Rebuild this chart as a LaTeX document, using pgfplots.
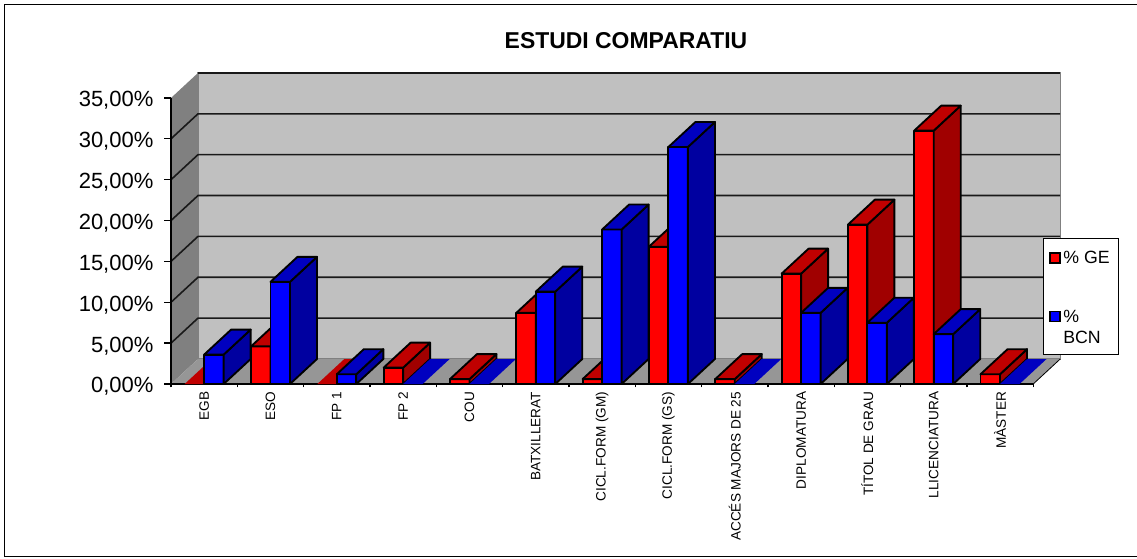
\documentclass[border=0pt]{standalone}
\usepackage{pgfplots}
\pgfplotsset{compat=1.18}
\usepackage{fontspec}
\setmainfont{Liberation Sans}
\definecolor{rfront}{HTML}{FF0000}
\definecolor{rtop}{HTML}{C00000}
\definecolor{rside}{HTML}{A00000}
\definecolor{bfront}{HTML}{0000FF}
\definecolor{btop}{HTML}{0000C0}
\definecolor{bside}{HTML}{0000A0}
\definecolor{wallb}{HTML}{C0C0C0}
\definecolor{walll}{HTML}{808080}
\definecolor{floorc}{HTML}{969696}
\def\dx{0.4072}
\def\dy{3.06}
\def\bw{0.294}
% one box: left x, value, colour prefix
\newcommand{\onebox}[3]{%
  \pgfmathsetmacro\xa{#1}\pgfmathsetmacro\xb{#1+\bw}%
  \pgfmathsetmacro\xc{\xa+\dx}\pgfmathsetmacro\xd{\xb+\dx}%
  \pgfmathsetmacro\ya{#2}\pgfmathsetmacro\yb{#2+\dy}%
  \ifdim#2pt>0pt
    \addplot[forget plot,draw=black,line width=1.4pt,line join=round,fill=#3front] coordinates {(\xa,0)(\xb,0)(\xb,\ya)(\xa,\ya)} --cycle;
    \addplot[forget plot,draw=black,line width=1.4pt,line join=round,fill=#3side] coordinates {(\xb,0)(\xd,\dy)(\xd,\yb)(\xb,\ya)} --cycle;
    \addplot[forget plot,draw=black,line width=1.4pt,line join=round,fill=#3top] coordinates {(\xa,\ya)(\xb,\ya)(\xd,\yb)(\xc,\yb)} --cycle;
  \else
    \addplot[forget plot,draw=none,fill=#3top] coordinates {(\xa,0)(\xb,0)(\xd,\dy)(\xc,\dy)} --cycle;
  \fi}
\newcommand{\cat}[3]{%
  \pgfmathsetmacro\xr{#1+0.5-\bw}\pgfmathsetmacro\xl{#1+0.5}%
  \onebox{\xr}{#2}{r}\onebox{\xl}{#3}{b}}
\newcommand{\gridl}[1]{%
  \pgfmathsetmacro\yy{#1+\dy}%
  \addplot[forget plot,black!90,line width=1.2pt] coordinates {(0,#1)(\dx,\yy)(13.4072,\yy)};}
\begin{document}
\begin{tikzpicture}
\path[use as bounding box] (0pt,0pt) rectangle (852.75pt,-418.5pt);
\draw[black,line width=0.7pt] (852.75pt,-3pt) -- (3pt,-3pt) -- (3pt,-417pt) -- (852.75pt,-417pt);
\begin{axis}[
  at={(128.25pt,-288pt)},anchor=south west,
  scale only axis,width=666.9pt,height=233.3pt,
  xmin=0,xmax=13.4072,ymin=0,ymax=38.06,
  clip=false,
  axis lines=left,
  axis line style={draw=none,-},
  tick align=outside,tick pos=left,
  major tick length=5pt,
  tick style={black,line width=1pt},
  xtick style={/pgfplots/major tick length=2.5pt},
  xtick={0,1,...,13},
  x tick label as interval,
  xticklabels={EGB,ESO,FP 1,FP 2,COU,BATXILLERAT,CICL.FORM (GM),CICL.FORM (GS),ACCÉS MAJORS DE 25,DIPLOMATURA,TÍTOL DE GRAU,LLICENCIATURA,MÀSTER},
  xticklabel style={rotate=90,anchor=east,font=\fontsize{10.2}{11}\selectfont,inner sep=0pt,xshift=-0.7pt},
  ytick={0,5,...,35},
  yticklabels={{0,00\%},{5,00\%},{10,00\%},{15,00\%},{20,00\%},{25,00\%},{30,00\%},{35,00\%}},
  yticklabel style={font=\fontsize{16.5}{18}\selectfont,inner sep=1pt,xshift=-7pt,yshift=-2pt},
  title={\bfseries ESTUDI COMPARATIU},
  every axis title shift=0pt,
  title style={at={(axis cs:6.86,42.05)},anchor=center,font=\fontsize{17.2}{19}\selectfont},
  legend style={at={(axis cs:13.15,17.87)},anchor=north west,draw=black,line width=0.5pt,
    inner xsep=4pt,inner ysep=7.5pt,row sep=29.75pt,font=\fontsize{13.3}{15.5}\selectfont,
    /tikz/row 2/.style={nodes={text depth=14pt}},
    /tikz/every even column/.append style={column sep=2pt}},
  legend cell align=left,
]
\addlegendimage{legend image code/.code={\draw[black,line width=1.4pt,fill=rfront] (0pt,-3.5pt) rectangle (7.5pt,4pt);}}
\addlegendentry{\parbox[t]{35pt}{\% GE}}
\addlegendimage{legend image code/.code={\draw[black,line width=1.4pt,fill=bfront] (0pt,3.25pt) rectangle (7.5pt,10.75pt);}}
\addlegendentry{\parbox[t]{35pt}{\%\\BCN}}
% walls and floor
\addplot[forget plot,draw=walll,line width=0.8pt,fill=wallb] coordinates {(\dx,\dy)(13.4072,\dy)(13.4072,38.06)(\dx,38.06)} --cycle;
\addplot[forget plot,draw=none,fill=walll] coordinates {(0,0)(\dx,\dy)(\dx,38.06)(0,35)} --cycle;
\addplot[forget plot,draw=none,fill=floorc] coordinates {(0,0)(13,0)(13.4072,\dy)(\dx,\dy)} --cycle;
\addplot[forget plot,black,line width=0.6pt] coordinates {(13,0)(13.4072,\dy)};
\gridl{5}\gridl{10}\gridl{15}\gridl{20}\gridl{25}\gridl{30}
\addplot[forget plot,black!90,line width=1.2pt] coordinates {(\dx,38.06)(13.4072,38.06)};
% axis lines
\addplot[forget plot,black,line width=1.5pt] coordinates {(0,35)(0,0)(13,0)};
% data: category, % GE, % BCN
\cat{0}{0}{3.6}
\cat{1}{4.6}{12.5}
\cat{2}{0}{1.2}
\cat{3}{2.0}{0}
\cat{4}{0.6}{0}
\cat{5}{8.7}{11.3}
\cat{6}{0.6}{18.9}
\cat{7}{16.8}{29.0}
\cat{8}{0.6}{0}
\cat{9}{13.5}{8.7}
\cat{10}{19.5}{7.5}
\cat{11}{31.0}{6.1}
\cat{12}{1.2}{0}
\end{axis}
\end{tikzpicture}
\end{document}
